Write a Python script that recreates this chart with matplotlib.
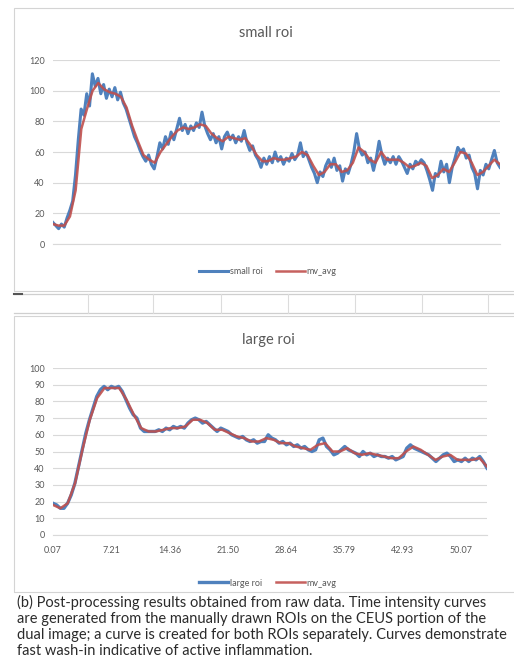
import numpy as np
import matplotlib
matplotlib.use('Agg')
import matplotlib.pyplot as plt
from matplotlib.patches import Rectangle
from matplotlib.lines import Line2D

# time range of the recording (s)
t_start, t_end = 0.07, 53.3

# small roi: raw intensity and moving average
small_roi = [14, 12, 10, 13, 11, 17, 22, 28, 45, 68, 88, 84, 98, 90, 111, 103, 108, 98, 104, 95,
             101, 96, 102, 94, 99, 92, 88, 82, 76, 70, 66, 61, 57, 54, 58, 52, 49, 57, 66, 62,
             70, 65, 73, 68, 75, 82, 74, 78, 72, 77, 74, 79, 76, 86, 77, 72, 68, 72, 66, 70,
             62, 70, 73, 68, 71, 66, 70, 67, 74, 66, 61, 64, 58, 55, 50, 56, 52, 57, 53, 60,
             54, 57, 52, 56, 54, 59, 55, 58, 66, 57, 60, 55, 50, 46, 40, 47, 44, 51, 55, 50,
             56, 48, 51, 41, 49, 46, 52, 60, 72, 62, 58, 60, 53, 56, 48, 56, 67, 58, 52, 56,
             53, 57, 52, 57, 54, 50, 46, 52, 49, 54, 52, 55, 53, 48, 42, 35, 46, 44, 54, 47,
             52, 40, 50, 56, 63, 60, 62, 56, 58, 50, 46, 36, 48, 45, 52, 49, 55, 61, 53, 50]
small_avg = [13, 12, 12, 18, 35, 75, 88, 100, 105, 101, 99, 98, 96, 89, 77, 67, 58, 55, 53, 60,
             65, 70, 74, 76, 75, 76, 78, 77, 72, 69, 67, 70, 69, 68, 69, 64, 58, 54, 54, 56,
             55, 55, 56, 57, 60, 58, 51, 45, 47, 52, 52, 47, 48, 53, 63, 60, 55, 53, 60, 55,
             55, 55, 53, 50, 51, 53, 51, 43, 45, 49, 47, 53, 60, 59, 53, 45, 47, 51, 55, 52]

# large roi: raw intensity and moving average
large_roi = [19, 18, 16, 16, 19, 24, 31, 41, 51, 61, 69, 76, 83, 87, 89, 87, 89, 88, 89, 86,
             81, 76, 72, 70, 64, 62, 62, 62, 62, 63, 62, 64, 63, 65, 64, 65, 64, 67, 69, 70,
             69, 67, 68, 66, 64, 62, 64, 63, 62, 60, 59, 58, 59, 57, 56, 57, 55, 56, 56, 60,
             58, 57, 55, 56, 54, 55, 53, 54, 52, 53, 51, 50, 51, 57, 58, 53, 51, 48, 49, 51,
             53, 51, 50, 49, 47, 50, 48, 49, 47, 48, 47, 47, 46, 47, 45, 46, 47, 52, 54, 52,
             51, 50, 49, 48, 46, 44, 46, 48, 49, 47, 44, 45, 44, 46, 44, 46, 45, 47, 44, 40]
large_avg = [18, 16, 19, 31, 51, 69, 82, 88, 88, 88, 81, 72, 64, 62, 62, 63, 64, 64, 65, 69,
             69, 67, 63, 63, 61, 59, 58, 56, 56, 58, 57, 55, 55, 53, 52, 51, 54, 55, 50, 50,
             52, 49, 48, 49, 48, 47, 46, 46, 50, 53, 51, 48, 45, 47, 48, 45, 45, 45, 46, 41]

x_ticks = [0.07, 7.21, 14.36, 21.50, 28.64, 35.79, 42.93, 50.07]
x_labels = ['0.07', '7.21', '14.36', '21.50', '28.64', '35.79', '42.93', '50.07']

caption = ("(b) Post-processing results obtained from raw data. Time intensity curves\n"
           "are generated from the manually drawn ROIs on the CEUS portion of the\n"
           "dual image; a curve is created for both ROIs separately. Curves demonstrate\n"
           "fast wash-in indicative of active inflammation.")

plt.rcParams['font.family'] = ['Lato', 'DejaVu Sans']

W, H = 514, 670
BLUE = '#4F81BD'
RED = '#C0504D'
GREY = '#595959'
GRID = '#d9d9d9'

fig = plt.figure(figsize=(W / 100, H / 100), dpi=100)
fig.patch.set_facecolor('white')


def fx(px):
    return px / W


def fy(py):
    return 1 - py / H


# chart frames and the cropped strip between the two charts
for (x0, y0, x1, y1) in [(14, 8, 520, 291), (14, 316, 520, 592)]:
    fig.patches.append(Rectangle((fx(x0), fy(y1)), fx(x1 - x0), (y1 - y0) / H,
                                 transform=fig.transFigure, fill=False,
                                 edgecolor='#d4d4d4', lw=0.8))
for py in [294, 313]:
    fig.lines.append(Line2D([fx(14), 1], [fy(py), fy(py)], transform=fig.transFigure,
                            color='#cfcfcf', lw=0.9))
for px in [88, 153, 221, 288, 355, 422, 488]:
    fig.lines.append(Line2D([fx(px), fx(px)], [fy(294), fy(313)], transform=fig.transFigure,
                            color='#dcdcdc', lw=0.8))
fig.lines.append(Line2D([fx(14), fx(22)], [fy(294), fy(294)], transform=fig.transFigure,
                        color='#555555', lw=1.5))


def style_axes(ax, ymax, ystep):
    ax.set_ylim(0, ymax)
    ax.set_yticks(np.arange(0, ymax + 1, ystep))
    ax.grid(axis='y', color=GRID, lw=0.8)
    ax.set_axisbelow(True)
    for s in ['top', 'right', 'left']:
        ax.spines[s].set_visible(False)
    ax.spines['bottom'].set_color(GRID)
    ax.tick_params(axis='y', length=0, labelsize=6.5, labelcolor=GREY, pad=6)
    ax.set_xlim(t_start, t_end)


# top chart: small roi
ax1 = fig.add_axes([fx(53), fy(244), fx(447), 184 / H])
t_raw = np.linspace(t_start, t_end, len(small_roi))
t_avg = np.linspace(t_start, t_end, len(small_avg))
ax1.plot(t_raw, small_roi, color=BLUE, lw=2.2, label='small roi')
ax1.plot(t_avg, small_avg, color=RED, lw=1.8, alpha=0.9, label='mv_avg')
style_axes(ax1, 120, 20)
ax1.set_xticks([])
fig.text(fx(266), fy(33), 'small roi', ha='center', va='center', fontsize=10.5, color=GREY)
ax1.legend(loc='center', bbox_to_anchor=(fx(268), fy(272)), bbox_transform=fig.transFigure,
           ncol=2, frameon=False, fontsize=6.5, labelcolor=GREY, handlelength=3.2,
           handletextpad=0.2, columnspacing=1.5)

# bottom chart: large roi
ax2 = fig.add_axes([fx(53), fy(535), fx(434), 167 / H])
t_raw = np.linspace(t_start, t_end, len(large_roi))
t_avg = np.linspace(t_start, t_end, len(large_avg))
ax2.plot(t_raw, large_roi, color=BLUE, lw=2.4, label='large roi')
ax2.plot(t_avg, large_avg, color=RED, lw=1.8, alpha=0.9, label='mv_avg')
style_axes(ax2, 100, 10)
ax2.set_xticks(x_ticks)
ax2.set_xticklabels(x_labels)
ax2.tick_params(axis='x', length=0, labelsize=6.5, labelcolor=GREY, pad=8)
fig.text(fx(268), fy(340), 'large roi', ha='center', va='center', fontsize=10.5, color=GREY)
ax2.legend(loc='center', bbox_to_anchor=(fx(268), fy(583)), bbox_transform=fig.transFigure,
           ncol=2, frameon=False, fontsize=6.5, labelcolor=GREY, handlelength=3.2,
           handletextpad=0.2, columnspacing=1.5)

fig.text(fx(17), fy(595), caption, ha='left', va='top', fontsize=10.5, color='#2b2b2b',
         linespacing=1.17)

plt.savefig('out.png', dpi=100, facecolor='white')
plt.close()
